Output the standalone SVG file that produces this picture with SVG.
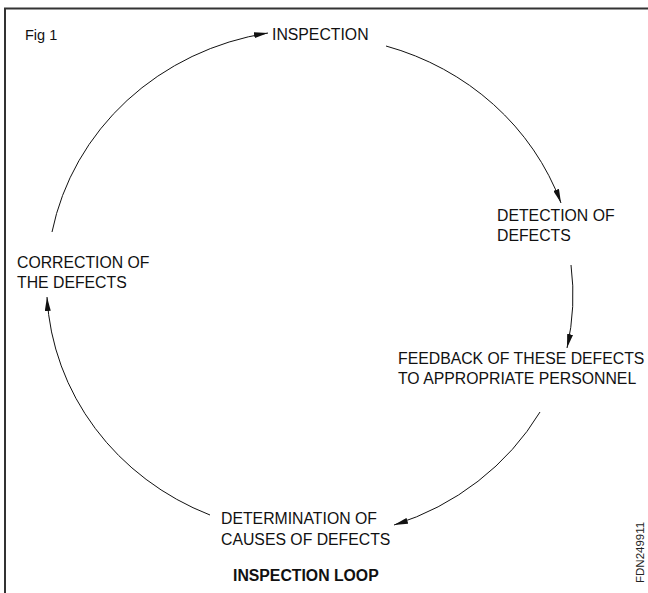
<svg xmlns="http://www.w3.org/2000/svg" width="648" height="593" viewBox="0 0 648 593">
  <style>
    .lbl { font-family: "Liberation Sans", Arial, sans-serif; font-size: 15.8px; fill: #111; }
    .title { font-family: "Liberation Sans", Arial, sans-serif; font-size: 15.8px; font-weight: bold; fill: #111; }
    .fig { font-family: "Liberation Sans", Arial, sans-serif; font-size: 14.5px; fill: #111; }
    .code { font-family: "Liberation Sans", Arial, sans-serif; font-size: 11.5px; fill: #222; }
    .arc { fill: none; stroke: #111; stroke-width: 1; }
    .frame { fill: none; stroke: #333; stroke-width: 2; }
  </style>
  <defs>
    <marker id="arrow" viewBox="0 0 14 6" refX="14" refY="3" markerWidth="14" markerHeight="6" markerUnits="userSpaceOnUse" orient="auto">
      <path d="M0,0 L14,3 L0,6 Z" fill="#111"/>
    </marker>
  </defs>

  <rect width="648" height="593" fill="#fff"/>

  <!-- frame: top and left rules -->
  <path class="frame" d="M5,594 L5,8.5 L649,8.5"/>

  <text class="fig" x="25" y="40">Fig 1</text>

  <!-- connectors of the loop -->
  <g id="connectors">
    <path class="arc" d="M52,232 A264 250 0 0 1 268,33" marker-end="url(#arrow)"/>
    <path class="arc" d="M386,46 A264 250 0 0 1 561,203" marker-end="url(#arrow)"/>
    <path class="arc" d="M571,265 A264 250 0 0 1 567,348" marker-end="url(#arrow)"/>
    <path class="arc" d="M540,412 A264 250 0 0 1 394,525" marker-end="url(#arrow)"/>
    <path class="arc" d="M210,515 A264 250 0 0 1 47,297" marker-end="url(#arrow)"/>
  </g>

  <g id="inspection">
    <text class="lbl" x="272" y="40">INSPECTION</text>
  </g>
  <g id="detection">
    <text class="lbl" x="497" y="221">DETECTION OF</text>
    <text class="lbl" x="497" y="241">DEFECTS</text>
  </g>
  <g id="feedback">
    <text class="lbl" x="398" y="364">FEEDBACK OF THESE DEFECTS</text>
    <text class="lbl" x="398" y="384">TO APPROPRIATE PERSONNEL</text>
  </g>
  <g id="determination">
    <text class="lbl" x="221" y="524">DETERMINATION OF</text>
    <text class="lbl" x="221" y="545">CAUSES OF DEFECTS</text>
  </g>
  <g id="correction">
    <text class="lbl" x="17" y="268">CORRECTION OF</text>
    <text class="lbl" x="17" y="288">THE DEFECTS</text>
  </g>

  <text class="title" x="233" y="581">INSPECTION LOOP</text>

  <text class="code" transform="translate(644,583) rotate(-90)">FDN249911</text>
</svg>
